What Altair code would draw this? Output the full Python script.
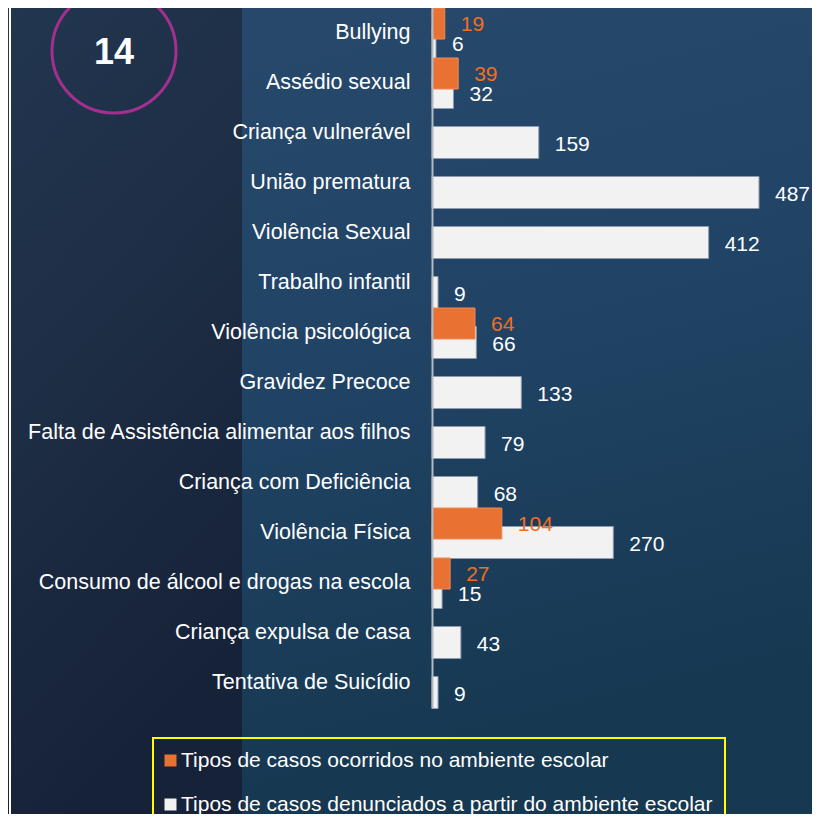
import altair as alt
import pandas as pd

categorias = [
    "Bullying",
    "Assédio sexual",
    "Criança vulnerável ",
    "União prematura",
    "Violência Sexual",
    "Trabalho infantil ",
    "Violência psicológica",
    "Gravidez Precoce",
    "Falta de Assistência alimentar aos filhos",
    "Criança com Deficiência",
    "Violência Física",
    "Consumo de álcool e drogas na escola",
    "Criança expulsa de casa",
    "Tentativa de Suicídio",
]
ocorridos = [19, 39, None, None, None, None, 64, None, None, None, 104, 27, None, None]
denunciados = [6, 32, 159, 487, 412, 9, 66, 133, 79, 68, 270, 15, 43, 9]
series = [
    "Tipos de casos ocorridos no ambiente escolar",
    "Tipos de casos denunciados a partir do ambiente escolar",
]
cores = ["#E97132", "#F2F2F2"]

rows = []
for c, o, d in zip(categorias, ocorridos, denunciados):
    if o is not None:
        rows.append({"categoria": c, "serie": series[0], "valor": o})
    rows.append({"categoria": c, "serie": series[1], "valor": d})
df = pd.DataFrame(rows)

FONT = "Liberation Sans"

y_enc = alt.Y(
    "categoria:N",
    sort=categorias,
    scale=alt.Scale(domain=categorias, paddingInner=0, paddingOuter=0),
    axis=alt.Axis(
        title=None, labelFontSize=21.5, labelFont=FONT, labelColor="#FFFFFF",
        ticks=False, tickSize=0, labelPadding=22, domainColor="#B4B9C2",
        domainWidth=2, grid=False, zindex=1, labelLimit=600,
    ),
)
x_enc = alt.X("valor:Q", scale=alt.Scale(domain=[0, 554]), axis=None)
color_enc = alt.Color(
    "serie:N",
    scale=alt.Scale(domain=series, range=cores),
    legend=alt.Legend(
        title=None, orient="none", legendX=-279, legendY=730,
        direction="vertical", symbolType="square", symbolSize=144,
        symbolStrokeWidth=0, symbolOpacity=1, symbolOffset=-5,
        labelFontSize=21, labelFont=FONT,
        labelColor="#FFFFFF", strokeColor="#FFFF00", padding=12,
        rowPadding=22, labelOffset=0, labelLimit=1000, zindex=1,
    ),
)

base = alt.Chart(df)
is_oc = alt.datum.serie == series[0]
is_de = alt.datum.serie == series[1]

white_bars = base.transform_filter(is_de).mark_bar(
    size=32, yOffset=9.5, stroke="#8E9AAE", strokeWidth=1, opacity=1
).encode(x=x_enc, y=y_enc, color=color_enc)

orange_bars = base.transform_filter(is_oc).mark_bar(
    size=31, yOffset=-9.5, stroke="#EF8A55", strokeWidth=1, opacity=1
).encode(x=x_enc, y=y_enc, color=color_enc)

white_txt = base.transform_filter(is_de).mark_text(
    align="left", baseline="middle", dx=16, yOffset=11.5, fontSize=21,
    font=FONT, color="#FFFFFF",
).encode(x=x_enc, y=y_enc, text="valor:Q")

orange_txt = base.transform_filter(is_oc).mark_text(
    align="left", baseline="middle", dx=16, yOffset=-8, fontSize=21,
    font=FONT, color="#F26E1F",
).encode(x=x_enc, y=y_enc, text="valor:Q")

one = alt.Data(values=[{"k": 1}])

bg = alt.Chart(one).mark_rect(
    color=alt.LinearGradient(
        gradient="linear",
        stops=[alt.GradientStop(color="#28496C", offset=0),
               alt.GradientStop(color="#214466", offset=0.5),
               alt.GradientStop(color="#163851", offset=1)],
        x1=0, y1=0, x2=0.25, y2=1,
    )
).encode(x=alt.value(-424), x2=alt.value(380), y=alt.value(0), y2=alt.value(806))

left_panel = alt.Chart(one).mark_rect(
    color=alt.LinearGradient(
        gradient="linear",
        stops=[alt.GradientStop(color="#22364F", offset=0),
               alt.GradientStop(color="#1D2D44", offset=0.5),
               alt.GradientStop(color="#162238", offset=1)],
        x1=0, y1=0, x2=0.3, y2=1,
    )
).encode(x=alt.value(-424), x2=alt.value(-190), y=alt.value(0), y2=alt.value(806))

left_line = alt.Chart(one).mark_rule(color="#FFFFFF", strokeWidth=2).encode(
    x=alt.value(-422), y=alt.value(0), y2=alt.value(806)
)

circle = alt.Chart(one).mark_point(
    shape="circle", size=15376, filled=False, color="#A3308F",
    strokeWidth=3, opacity=1,
).encode(x=alt.value(-318), y=alt.value(43))

num = alt.Chart(one).mark_text(
    text="14", fontSize=36, fontWeight="bold", font=FONT, color="#FFFFFF",
    align="center", baseline="middle",
).encode(x=alt.value(-318), y=alt.value(45))

chart = alt.layer(
    bg, left_panel, left_line, circle, num,
    white_bars, orange_bars, white_txt, orange_txt,
).properties(
    width=372, height=700,
    autosize=alt.AutoSizeParams(type="none"),
    padding={"left": 424, "top": 0, "right": 8, "bottom": 106},
    background="#1F3A57",
).configure_view(stroke=None).configure_legend(strokeWidth=2)

chart.save("out.html", embed_options={"renderer": "svg", "actions": False})
